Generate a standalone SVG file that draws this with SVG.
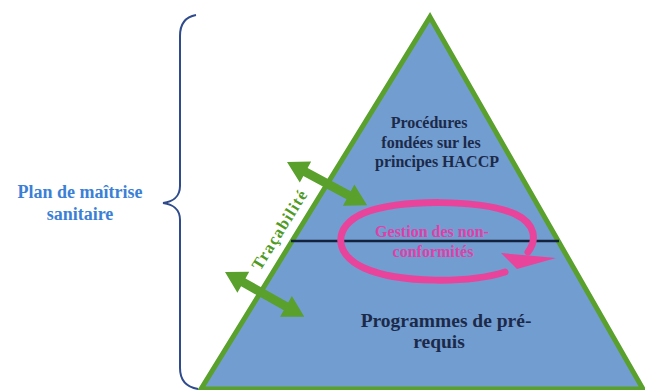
<svg xmlns="http://www.w3.org/2000/svg" width="645" height="390" viewBox="0 0 645 390">
<style>
.navy{fill:#1c2a4a;font-size:16px}
.big{font-size:19.5px}
.blue{fill:#3b7fd6;font-size:18px}
.pink{fill:#e040a8;font-size:16px}
.green{fill:#4e9a22;font-size:16.5px}
.garrow{fill:#5aa02c}
</style>
<defs>
<polygon id="dbl" points="0,0 21,-12 21,-4.5 70,-4.5 70,-12 91,0 70,12 70,4.5 21,4.5 21,12"/>
</defs>
<rect width="645" height="390" fill="#ffffff"/>
<g id="pyramid">
<polygon points="430,17 643,389 201,389" fill="#729dd0" stroke="#5aa02c" stroke-width="5" stroke-linejoin="miter"/>
<line x1="291" y1="241" x2="559" y2="241" stroke="#14233d" stroke-width="2.5"/>
</g>
<g font-family="Times New Roman, Liberation Serif, serif" font-weight="bold" text-anchor="middle">
<g id="brace">
<path d="M196 15 C185 17 180 24 180 36 L180 186 C180 197 172 202 163 203 C172 204 180 209 180 220 L180 368 C180 380 186 387 198 389" fill="none" stroke="#2f4b8c" stroke-width="2"/>
<text class="blue" x="80" y="198">Plan de maîtrise</text>
<text class="blue" x="80" y="220">sanitaire</text>
</g>
<g id="top-level">
<text class="navy" x="429" y="128">Procédures</text>
<text class="navy" x="431" y="148">fondées sur les</text>
<text class="navy" x="437" y="167">principes HACCP</text>
</g>
<g id="bottom-level">
<text class="navy big" x="446" y="327">Programmes de pré-</text>
<text class="navy big" x="439" y="348">requis</text>
</g>
<g id="non-conformites">
<path d="M505 272 C470 283 400 284 364 268 C333 254 333 226 364 213 C400 199 480 199 515 214 C536 224 537 240 528 252" fill="none" stroke="#e8449c" stroke-width="7" stroke-linecap="round"/>
<polygon points="501,253 556,258 517,269" fill="#e8449c"/>
<text class="pink" x="432" y="237">Gestion des non-</text>
<text class="pink" x="433" y="257">conformités</text>
</g>
<g id="tracabilite">
<text class="green" transform="translate(284,233) rotate(-58)" textLength="90" lengthAdjust="spacing">Traçabilité</text>
</g>
</g>
<g id="connectors" class="garrow">
<use href="#dbl" transform="translate(287,162) rotate(28.3)"/>
<use href="#dbl" transform="translate(225,272) rotate(29.4)"/>
</g>
</svg>
